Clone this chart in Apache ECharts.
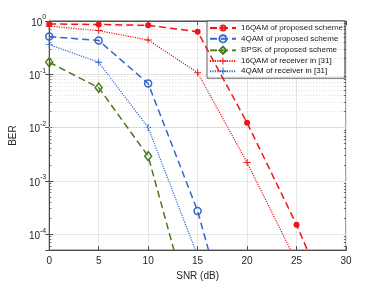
<!DOCTYPE html>
<html>
<head>
<meta charset="utf-8">
<script src="https://cdn.jsdelivr.net/npm/echarts@6/dist/echarts.min.js"></script>
<style>html,body{margin:0;padding:0;background:#fff}#c{width:382px;height:286px}</style>
</head>
<body>
<div id="c"></div>
<script>
// ---- data ----
var snr = [0, 5, 10, 15, 20, 25, 30];
var qam16Proposed = [0.88, 0.86, 0.83, 0.63, 0.0123, 1.5e-4, 1.0e-6];
var qam4Proposed  = [0.51, 0.43, 0.067, 2.7e-4, 1.3e-7];
var bpskProposed  = [0.168, 0.056, 0.0029, 1.2e-6];
var qam16Rx       = [0.80, 0.66, 0.44, 0.107, 0.0022, 3.0e-5];
var qam4Rx        = [0.36, 0.168, 0.010, 3.9e-5];
var seriesNames = ['16QAM of proposed scheme', '4QAM of proposed scheme', 'BPSK of proposed scheme',
                   '16QAM of receiver in [31]', '4QAM of receiver in [31]'];
var xTicks = [0, 5, 10, 15, 20, 25, 30];
var yMin = 5e-5, yMax = 1;

function pairs(vals){ return vals.map(function(v,i){ return [snr[i], v]; }); }

var RED = '#f01414', BLUE = '#3366cc', GREEN = '#4a7a19';
var plusPath = 'path://M-0.14,-1H0.14V-0.14H1V0.14H0.14V1H-0.14V0.14H-1V-0.14H-0.14Z';

// minor decade values for dotted grid / minor ticks
var minorVals = [];
for (var e = -5; e < 0; e++) {
  for (var m = 2; m <= 9; m++) {
    var v = m * Math.pow(10, e);
    if (v >= yMin && v < yMax) minorVals.push(v);
  }
}
var gridMarks = [];
minorVals.forEach(function(v){
  gridMarks.push({yAxis: v, lineStyle: {color: '#d4d4d4', type: [1, 2], width: 0.8}});
  gridMarks.push([{coord: [0, v], lineStyle: {color: '#4d4d4d', type: 'solid', width: 0.8}}, {coord: [0.22, v]}]);
  gridMarks.push([{coord: [29.78, v], lineStyle: {color: '#4d4d4d', type: 'solid', width: 0.8}}, {coord: [30, v]}]);
});

var chart = echarts.init(document.getElementById('c'), null, {renderer: 'canvas'});
chart.setOption({
  animation: false,
  backgroundColor: '#fff',
  grid: {left: 49, right: 36, top: 21, bottom: 32, show: true, borderColor: '#4d4d4d', borderWidth: 1, backgroundColor: 'transparent'},
  legend: {
    data: seriesNames,
    orient: 'vertical',
    left: 207, top: 21,
    backgroundColor: '#fff',
    borderColor: '#333', borderWidth: 0.8,
    padding: [3, 2, 3, 2],
    itemGap: 2.2, itemWidth: 26, itemHeight: 9,
    textStyle: {fontSize: 8, color: '#111', fontFamily: 'Liberation Sans'}
  },
  xAxis: [{
    type: 'value', min: 0, max: 30, interval: 5,
    name: 'SNR (dB)', nameLocation: 'middle', nameGap: 17,
    nameTextStyle: {fontSize: 10, color: '#262626', fontFamily: 'Liberation Sans'},
    axisLine: {show: true, lineStyle: {color: '#4d4d4d'}},
    axisTick: {show: true, inside: true, length: 4, lineStyle: {color: '#4d4d4d'}},
    axisLabel: {fontSize: 10, color: '#262626', margin: 6, fontFamily: 'Liberation Sans'},
    splitLine: {show: true, lineStyle: {color: '#e6e6e6', width: 1}}
  }, {
    type: 'value', min: 0, max: 30, interval: 5, position: 'top',
    axisLine: {show: true, lineStyle: {color: '#4d4d4d'}},
    axisTick: {show: true, inside: true, length: 4, lineStyle: {color: '#4d4d4d'}},
    axisLabel: {show: false}, splitLine: {show: false}
  }],
  yAxis: [{
    type: 'log', logBase: 10, min: yMin, max: yMax,
    name: 'BER', nameLocation: 'middle', nameGap: 23,
    nameTextStyle: {fontSize: 10, color: '#262626', fontFamily: 'Liberation Sans'},
    axisLine: {show: true, lineStyle: {color: '#4d4d4d'}},
    axisTick: {show: true, inside: true, length: 4, lineStyle: {color: '#4d4d4d'}},
    splitLine: {show: true, lineStyle: {color: '#e6e6e6', width: 1}},
    axisLabel: {
      margin: 3, color: '#262626',
      formatter: function(val){
        var l = Math.log10(val);
        if (Math.abs(l - Math.round(l)) > 1e-6) return '';
        return '{b|10}{e|' + Math.round(l) + '}';
      },
      rich: {
        b: {fontSize: 10, color: '#262626', fontFamily: 'Liberation Sans', verticalAlign: 'bottom', lineHeight: 14},
        e: {fontSize: 7, color: '#262626', fontFamily: 'Liberation Sans', verticalAlign: 'top', lineHeight: 14}
      }
    }
  }, {
    type: 'log', logBase: 10, min: yMin, max: yMax, position: 'right',
    axisLine: {show: true, lineStyle: {color: '#4d4d4d'}},
    axisTick: {show: true, inside: true, length: 4, lineStyle: {color: '#4d4d4d'}},
    axisLabel: {show: false}, splitLine: {show: false}
  }],
  series: [
    {
      name: 'grid', type: 'line', data: [], z: 1, silent: true,
      markLine: {silent: true, symbol: 'none', label: {show: false}, animation: false, data: gridMarks}
    },
    {
      name: seriesNames[0], type: 'line', data: pairs(qam16Proposed), z: 5,
      symbol: 'circle', symbolSize: 6,
      itemStyle: {color: RED},
      lineStyle: {color: RED, width: 1.5, type: [7, 4]}
    },
    {
      name: seriesNames[1], type: 'line', data: pairs(qam4Proposed), z: 5,
      symbol: 'circle', symbolSize: 7,
      itemStyle: {color: 'rgba(255,255,255,0)', borderColor: BLUE, borderWidth: 1.5},
      lineStyle: {color: BLUE, width: 1.5, type: [7, 4]}
    },
    {
      name: seriesNames[2], type: 'line', data: pairs(bpskProposed), z: 5,
      symbol: 'diamond', symbolSize: [7, 9],
      itemStyle: {color: 'rgba(255,255,255,0)', borderColor: GREEN, borderWidth: 1.5},
      lineStyle: {color: GREEN, width: 1.5, type: [7, 4]}
    },
    {
      name: seriesNames[3], type: 'line', data: pairs(qam16Rx), z: 4,
      symbol: plusPath, symbolSize: 7,
      itemStyle: {color: RED},
      lineStyle: {color: RED, width: 1.2, type: [1.2, 1.2]}
    },
    {
      name: seriesNames[4], type: 'line', data: pairs(qam4Rx), z: 4,
      symbol: plusPath, symbolSize: 7,
      itemStyle: {color: BLUE},
      lineStyle: {color: BLUE, width: 1.2, type: [1.2, 1.2]}
    }
  ]
});
</script>
</body>
</html>
